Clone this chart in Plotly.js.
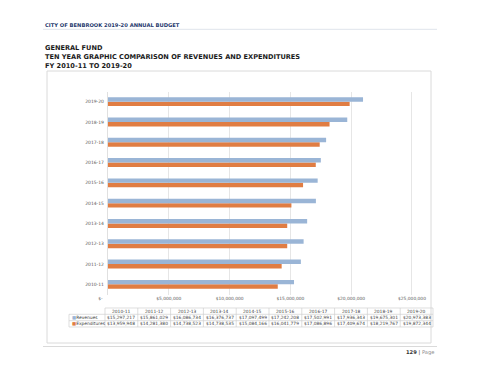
<!DOCTYPE html>
<html>
<head>
<meta charset="utf-8">
<script src="https://cdn.plot.ly/plotly-3.0.1.min.js"></script>
<style>html,body{margin:0;padding:0;background:#fff;}#chart{width:480px;height:371px;}</style>
</head>
<body>
<div id="chart"></div>
<script>
var years = ['2010-11','2011-12','2012-13','2013-14','2014-15','2015-16','2016-17','2017-18','2018-19','2019-20'];
var revenues = [15297217,15861029,16086734,16376737,17097499,17242208,17502991,17936343,19675301,20973383];
var expenditures = [13959948,14281380,14738523,14738535,15084166,16041779,17086896,17409674,18219767,19872344];
var xTickVals = [0,5000000,10000000,15000000,20000000,25000000];
var xTickText = ['$-','$5,000,000','$10,000,000','$15,000,000','$20,000,000','$25,000,000'];
var seriesNames = ['Revenues','Expenditures'];

var W = 480, H = 371;
function px(x){return x/W;}
function py(y){return 1 - y/H;}
var blue = '#9ab5d6', orange = '#e07d43';
var FONT = 'DejaVu Sans, Verdana, sans-serif';

var traces = [
  {type:'bar', orientation:'h', name:seriesNames[1], y:years, x:expenditures, marker:{color:orange}, hoverinfo:'none'},
  {type:'bar', orientation:'h', name:seriesNames[0], y:years, x:revenues, marker:{color:blue}, hoverinfo:'none'}
];

function fmt(v){return '$' + v.toLocaleString('en-US');}
var NB = '\u00a0';
var tickLabels = xTickText.map(function(s, i){ return i === 0 ? s + NB.repeat(11) : s; });

var shapes = [];
var annotations = [];
// page frame elements
shapes.push({type:'line', xref:'paper', yref:'paper', x0:px(43), x1:px(437), y0:py(29.3), y1:py(29.3), line:{color:'#dfe4ec', width:1}});
shapes.push({type:'rect', xref:'paper', yref:'paper', x0:px(47), x1:px(431), y0:py(343), y1:py(71), line:{color:'#dadada', width:1}, fillcolor:'rgba(0,0,0,0)', layer:'below'});
shapes.push({type:'line', xref:'paper', yref:'paper', x0:px(43), x1:px(437), y0:py(346.5), y1:py(346.5), line:{color:'#dadada', width:1}});

annotations.push({xref:'paper', yref:'paper', x:px(43), y:py(25), xanchor:'left', yanchor:'middle', showarrow:false,
  text:'<b>CITY OF BENBROOK 2019-20 ANNUAL BUDGET</b>', font:{family:FONT, size:5.2, color:'#1f3a6e'}});
var titles = ['GENERAL FUND','TEN YEAR GRAPHIC COMPARISON OF REVENUES AND EXPENDITURES','FY 2010-11 TO 2019-20'];
var titleY = [48.3, 57.3, 66.5];
for (var t=0;t<titles.length;t++){
  annotations.push({xref:'paper', yref:'paper', x:px(42.5), y:py(titleY[t]), xanchor:'left', yanchor:'middle', showarrow:false,
    text:'<b>'+titles[t]+'</b>', font:{family:FONT, size:6.6, color:'#1a1a1a'}});
}
annotations.push({xref:'paper', yref:'paper', x:px(436), y:py(352.5), xanchor:'right', yanchor:'middle', showarrow:false,
  text:'<b>129</b> | <span style="color:#8c8c8c">Page</span>', font:{family:FONT, size:5.2, color:'#333333'}});

// data table under axis
var tLeft = 69, cLeft = 105, tRight = 433;
var colW = (tRight - cLeft) / years.length;
var rowB = [308, 314.3, 320.7, 327];
var rowC = [311.2, 317.5, 323.8];
var lineC = '#d0d0d0';
shapes.push({type:'line', xref:'paper', yref:'paper', x0:px(cLeft), x1:px(tRight), y0:py(rowB[0]), y1:py(rowB[0]), line:{color:lineC, width:0.7}});
for (var r=1;r<rowB.length;r++){
  shapes.push({type:'line', xref:'paper', yref:'paper', x0:px(tLeft), x1:px(tRight), y0:py(rowB[r]), y1:py(rowB[r]), line:{color:lineC, width:0.7}});
}
shapes.push({type:'line', xref:'paper', yref:'paper', x0:px(tLeft), x1:px(tLeft), y0:py(rowB[1]), y1:py(rowB[3]), line:{color:lineC, width:0.7}});
for (var c=0;c<=years.length;c++){
  var xx = cLeft + c*colW;
  shapes.push({type:'line', xref:'paper', yref:'paper', x0:px(xx), x1:px(xx), y0:py(rowB[0]), y1:py(rowB[3]), line:{color:lineC, width:0.7}});
}
var tFont = {family:FONT, size:4.4, color:'#404040'};
for (var i=0;i<years.length;i++){
  var cx = px(cLeft + (i+0.5)*colW);
  annotations.push({xref:'paper', yref:'paper', x:cx, y:py(rowC[0]), xanchor:'center', yanchor:'middle', showarrow:false, text:years[i], font:tFont});
  annotations.push({xref:'paper', yref:'paper', x:cx, y:py(rowC[1]), xanchor:'center', yanchor:'middle', showarrow:false, text:fmt(revenues[i]), font:tFont});
  annotations.push({xref:'paper', yref:'paper', x:cx, y:py(rowC[2]), xanchor:'center', yanchor:'middle', showarrow:false, text:fmt(expenditures[i]), font:tFont});
}
annotations.push({xref:'paper', yref:'paper', x:px(69.5), y:py(rowC[1]), xanchor:'left', yanchor:'middle', showarrow:false,
  text:'<span style="color:'+blue+'">■</span>'+seriesNames[0], font:tFont});
annotations.push({xref:'paper', yref:'paper', x:px(69.5), y:py(rowC[2]), xanchor:'left', yanchor:'middle', showarrow:false,
  text:'<span style="color:'+orange+'">■</span>'+seriesNames[1], font:tFont});

var pxPerUnit = 12.16/1e6;
var x0px = 108, xMin = -2000, xMax = 25600000;
var layout = {
  width: W, height: H,
  margin:{l:0,r:0,t:0,b:0},
  paper_bgcolor:'#ffffff', plot_bgcolor:'#ffffff',
  showlegend:false,
  barmode:'group', bargap:0.56, bargroupgap:0,
  xaxis:{domain:[px(x0px + xMin*pxPerUnit), px(x0px + xMax*pxPerUnit)], range:[xMin, xMax], tickmode:'array', tickvals:xTickVals, ticktext:tickLabels,
    showgrid:true, gridcolor:'#e6e6e6', gridwidth:1, zeroline:true, zerolinecolor:'#e0e0e0', zerolinewidth:1,
    showline:false, ticks:'', ticklabeloverflow:'allow', tickfont:{family:FONT, size:4.4, color:'#595959'}, fixedrange:true},
  yaxis:{domain:[py(294.5), py(91.5)], type:'category', categoryorder:'array', categoryarray:years,
    showgrid:false, zeroline:false, showline:false, ticks:'', ticklabelstandoff:3,
    tickfont:{family:FONT, size:4.5, color:'#595959'}, fixedrange:true},
  shapes: shapes,
  annotations: annotations
};
Plotly.newPlot('chart', traces, layout, {staticPlot:true, displayModeBar:false});
</script>
</body>
</html>
